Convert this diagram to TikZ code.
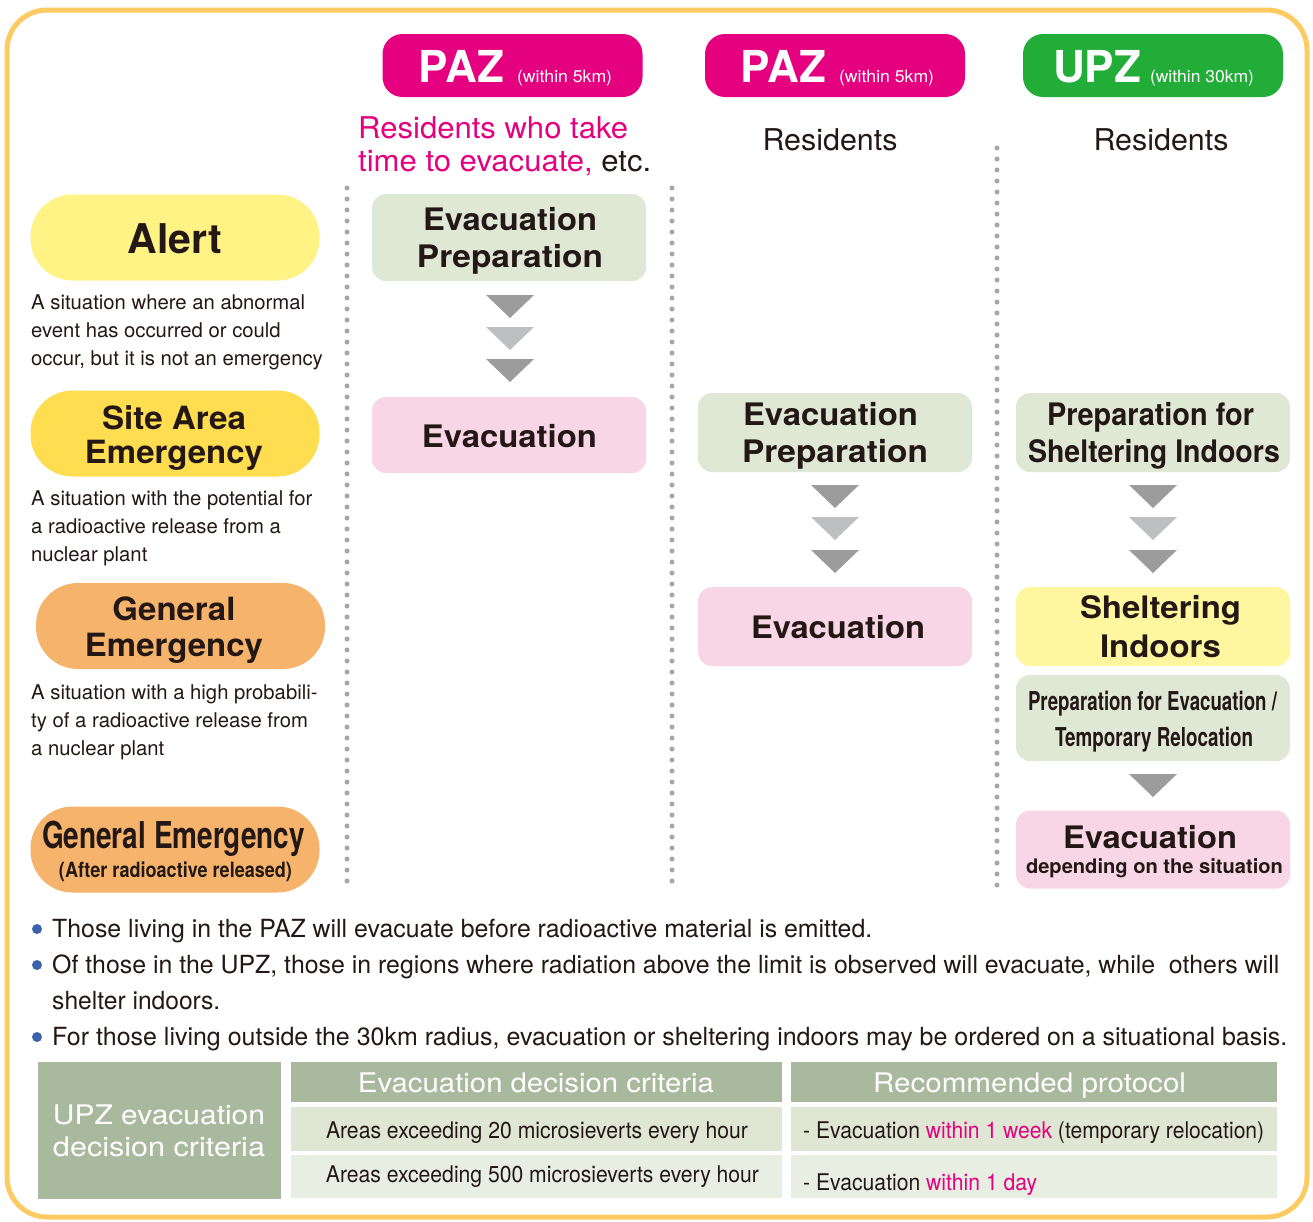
\documentclass[tikz,border=0pt]{standalone}
\usepackage{fontspec}
\setmainfont{TeX Gyre Heros}
\usepackage{graphicx}
\newcommand{\fitw}[2]{\resizebox{#1}{\height}{#2}}
\newcommand{\fsz}[1]{\fontsize{#1}{#1}\selectfont}
\definecolor{mag}{HTML}{E4007F}
\definecolor{grn}{HTML}{22AC38}
\definecolor{txt}{HTML}{231815}
\definecolor{bord}{HTML}{FDCB62}
\definecolor{alertY}{HTML}{FFF385}
\definecolor{siteY}{HTML}{FFDD50}
\definecolor{genO}{HTML}{F5B36B}
\definecolor{prepG}{HTML}{DFE8D5}
\definecolor{evacP}{HTML}{F8D6E6}
\definecolor{shelY}{HTML}{FFF7A0}
\definecolor{sage}{HTML}{A8B99E}
\definecolor{rowA}{HTML}{DFE7D4}
\definecolor{rowB}{HTML}{E9EEE3}
\definecolor{dotG}{HTML}{A7A7A7}
\definecolor{triD}{HTML}{9C9C9C}
\definecolor{triL}{HTML}{BEBFC1}
\definecolor{bul}{HTML}{3C62AE}
\tikzset{
  hdr/.style={rounded corners=20pt, inner sep=0pt, minimum width=260pt, minimum height=63pt},
  pill/.style={rounded corners=42pt, inner sep=0pt, minimum width=289pt, minimum height=86pt},
  stepbox/.style={rounded corners=14pt, inner sep=0pt, minimum width=274pt},
  cell/.style={inner sep=0pt},
  lbl/.style={anchor=base, inner sep=0pt, text=txt},
  lblw/.style={anchor=base west, inner sep=0pt, text=txt},
  desc/.style={anchor=base west, inner sep=0pt, text=txt, font=\fontsize{20.3}{24}\selectfont},
  dots/.style={line width=5pt, line cap=round, dash pattern=on 0pt off 11pt, dotG},
  bdot/.style={circle, fill=bul, minimum size=10pt, inner sep=0pt},
}
\begin{document}
\begin{tikzpicture}[x=1pt,y=-1pt]
\useasboundingbox (0,0) rectangle (1313,1221);
\fill[white] (0,0) rectangle (1313,1221);
\draw[bord, line width=5pt, rounded corners=40pt] (7,10) rectangle (1307,1217);

% headers
\node[hdr, fill=mag] (h1) at (512.5,65.5) {};
\node[hdr, fill=mag] (h2) at (835,65.5) {};
\node[hdr, fill=grn] (h3) at (1153,65.5) {};
\node[lbl, text=white] (h1t) at (515.5,82) {\fsz{44}\bfseries PAZ\hspace{13pt}\fitw{95pt}{\fsz{17}\mdseries (within 5km)}};
\node[lbl, text=white] (h2t) at (837.5,82) {\fsz{44}\bfseries PAZ\hspace{13pt}\fitw{95pt}{\fsz{17}\mdseries (within 5km)}};
\node[lbl, text=white] (h3t) at (1153.5,82) {\fsz{44}\bfseries UPZ\hspace{9pt}\fitw{104pt}{\fsz{17}\mdseries (within 30km)}};

% residents
\node[lblw, text=mag] (r1a) at (358,138) {\fitw{270pt}{\fsz{30}Residents who take}};
\node[lblw, text=mag] (r1b) at (358,171) {\fitw{293pt}{\fsz{30}time to evacuate, \textcolor{txt}{etc.}}};
\node[lbl] (r2) at (830,150) {\fitw{135pt}{\fsz{30}Residents}};
\node[lbl] (r3) at (1161,150) {\fitw{135pt}{\fsz{30}Residents}};

% separators
\draw[dots] (347,188) -- (347,885);
\draw[dots] (672,188) -- (672,885);
\draw[dots] (997,148) -- (997,888);

% left column
\node[pill, fill=alertY] (alert) at (175,237.5) {};
\node[pill, fill=siteY] (site) at (175,433.5) {};
\node[pill, fill=genO] (gen) at (180.5,626) {};
\node[pill, fill=genO] (genA) at (175,849.5) {};
\node[lbl] (alertT) at (175,253) {\fsz{41}\bfseries Alert};
\node[lbl] (siteT1) at (174,429) {\fitw{144pt}{\fsz{32}\bfseries Site Area}};
\node[lbl] (siteT2) at (174,463) {\fitw{178pt}{\fsz{32}\bfseries Emergency}};
\node[lbl] (genT1) at (174,620) {\fitw{123pt}{\fsz{32}\bfseries General}};
\node[lbl] (genT2) at (174,656) {\fitw{178pt}{\fsz{32}\bfseries Emergency}};
\node[lbl] (genAT1) at (173.5,848) {\fitw{263pt}{\fsz{37}\bfseries General Emergency}};
\node[lbl] (genAT2) at (175.5,877) {\fitw{233pt}{\fsz{21}\bfseries (After radioactive released)}};

\node[desc] (d1a) at (31,309) {A situation where an abnormal};
\node[desc] (d1b) at (31,337) {event has occurred or could};
\node[desc] (d1c) at (31,365) {occur, but it is not an emergency};
\node[desc] (d2a) at (31,505) {A situation with the potential for};
\node[desc] (d2b) at (31,533) {a radioactive release from a};
\node[desc] (d2c) at (31,561) {nuclear plant};
\node[desc] (d3a) at (31,699) {A situation with a high probabili-};
\node[desc] (d3b) at (31,727) {ty of a radioactive release from};
\node[desc] (d3c) at (31,755) {a nuclear plant};

% column 1
\node[stepbox, fill=prepG, minimum height=87pt] (c1p) at (509,237.5) {};
\node[stepbox, fill=evacP, minimum height=76pt] (c1e) at (509,435) {};
\node[lbl] (c1pt1) at (510,230) {\fitw{174pt}{\fsz{31}\bfseries Evacuation}};
\node[lbl] (c1pt2) at (510,267) {\fitw{186pt}{\fsz{31}\bfseries Preparation}};
\node[lbl] (c1et) at (509.5,447) {\fitw{175pt}{\fsz{31}\bfseries Evacuation}};
\fill[triD, shift={(510,295)}] (-24,0) -- (24,0) -- (0,23) -- cycle;
\fill[triL, shift={(510,327)}] (-24,0) -- (24,0) -- (0,23) -- cycle;
\fill[triD, shift={(510,359)}] (-24,0) -- (24,0) -- (0,23) -- cycle;

% column 2
\node[stepbox, fill=prepG, minimum height=79pt] (c2p) at (835,432.5) {};
\node[stepbox, fill=evacP, minimum height=79pt] (c2e) at (835,626.5) {};
\node[lbl] (c2pt1) at (830.5,425) {\fitw{175pt}{\fsz{31}\bfseries Evacuation}};
\node[lbl] (c2pt2) at (835,462) {\fitw{186pt}{\fsz{31}\bfseries Preparation}};
\node[lbl] (c2et) at (838,638) {\fitw{174pt}{\fsz{31}\bfseries Evacuation}};
\fill[triD, shift={(835,485)}] (-24,0) -- (24,0) -- (0,23) -- cycle;
\fill[triL, shift={(835,517)}] (-24,0) -- (24,0) -- (0,23) -- cycle;
\fill[triD, shift={(835,550)}] (-24,0) -- (24,0) -- (0,23) -- cycle;

% column 3
\node[stepbox, fill=prepG, minimum height=79pt] (c3p) at (1153,432.5) {};
\node[stepbox, fill=shelY, minimum height=79pt] (c3s) at (1153,626.5) {};
\node[stepbox, fill=prepG, minimum height=86pt] (c3r) at (1153,718) {};
\node[stepbox, fill=evacP, minimum height=78pt] (c3e) at (1153,849.5) {};
\node[lbl] (c3pt1) at (1150.5,425) {\fitw{207pt}{\fsz{31}\bfseries Preparation for}};
\node[lbl] (c3pt2) at (1154,462) {\fitw{252pt}{\fsz{31}\bfseries Sheltering Indoors}};
\node[lbl] (c3st1) at (1160.5,618) {\fitw{161pt}{\fsz{31}\bfseries Sheltering}};
\node[lbl] (c3st2) at (1160.5,657) {\fitw{121pt}{\fsz{31}\bfseries Indoors}};
\node[lbl] (c3rt1) at (1152.5,710) {\fitw{249pt}{\fsz{26}\bfseries Preparation for Evacuation /}};
\node[lbl] (c3rt2) at (1154,746) {\fitw{198pt}{\fsz{26}\bfseries Temporary Relocation}};
\node[lbl] (c3et1) at (1150,848) {\fitw{174pt}{\fsz{31}\bfseries Evacuation}};
\node[lbl] (c3et2) at (1154.5,873) {\fitw{257pt}{\fsz{20}\bfseries depending on the situation}};
\fill[triD, shift={(1153,485)}] (-24,0) -- (24,0) -- (0,23) -- cycle;
\fill[triL, shift={(1153,517)}] (-24,0) -- (24,0) -- (0,23) -- cycle;
\fill[triD, shift={(1153,550)}] (-24,0) -- (24,0) -- (0,23) -- cycle;
\fill[triD, shift={(1153,774)}] (-24,0) -- (24,0) -- (0,23) -- cycle;

% bullets
\node[bdot] (b1) at (37,929) {};
\node[bdot] (b2) at (37,965) {};
\node[bdot] (b3) at (37,1037) {};
\node[lblw] (bt1) at (52,937) {\fitw{820pt}{\fsz{25}Those living in the PAZ will evacuate before radioactive material is emitted.}};
\node[lblw] (bt2) at (52,973) {\fitw{1227pt}{\fsz{25}Of those in the UPZ, those in regions where radiation above the limit is observed will evacuate, while\ \ others will}};
\node[lblw] (bt2b) at (52,1009) {\fitw{168pt}{\fsz{25}shelter indoors.}};
\node[lblw] (bt3) at (52,1045) {\fitw{1235pt}{\fsz{25}For those living outside the 30km radius, evacuation or sheltering indoors may be ordered on a situational basis.}};

% table
\node[cell, fill=sage, minimum width=243pt, minimum height=137pt] (tl) at (159.5,1130) {};
\node[cell, fill=sage, minimum width=491pt, minimum height=40pt] (th1) at (536,1081.5) {};
\node[cell, fill=sage, minimum width=486pt, minimum height=40pt] (th2) at (1034,1081.5) {};
\node[cell, fill=rowA, minimum width=491pt, minimum height=44pt] (ra1) at (536,1128.5) {};
\node[cell, fill=rowA, minimum width=486pt, minimum height=44pt] (rb1) at (1034,1128.5) {};
\node[cell, fill=rowB, minimum width=491pt, minimum height=43pt] (ra2) at (536,1176.5) {};
\node[cell, fill=rowB, minimum width=486pt, minimum height=43pt] (rb2) at (1034,1176.5) {};
\node[lbl, text=white] (tlt1) at (159,1124) {\fitw{212pt}{\fsz{27}UPZ evacuation}};
\node[lbl, text=white] (tlt2) at (159,1156) {\fitw{212pt}{\fsz{27}decision criteria}};
\node[lbl, text=white] (th1t) at (536,1092) {\fitw{356pt}{\fsz{27}Evacuation decision criteria}};
\node[lbl, text=white] (th2t) at (1029.5,1092) {\fitw{313pt}{\fsz{27}Recommended protocol}};
\node[lbl] (ra1t) at (537,1138) {\fitw{422pt}{\fsz{23}Areas exceeding 20 microsieverts every hour}};
\node[lbl] (ra2t) at (542.5,1182) {\fitw{433pt}{\fsz{23}Areas exceeding 500 microsieverts every hour}};
\node[lblw] (rb1t) at (803,1138) {\fitw{461pt}{\fsz{23}- Evacuation \textcolor{mag}{within 1 week} (temporary relocation)}};
\node[lblw] (rb2t) at (803,1190) {\fitw{234pt}{\fsz{23}- Evacuation \textcolor{mag}{within 1 day}}};
\end{tikzpicture}
\end{document}
